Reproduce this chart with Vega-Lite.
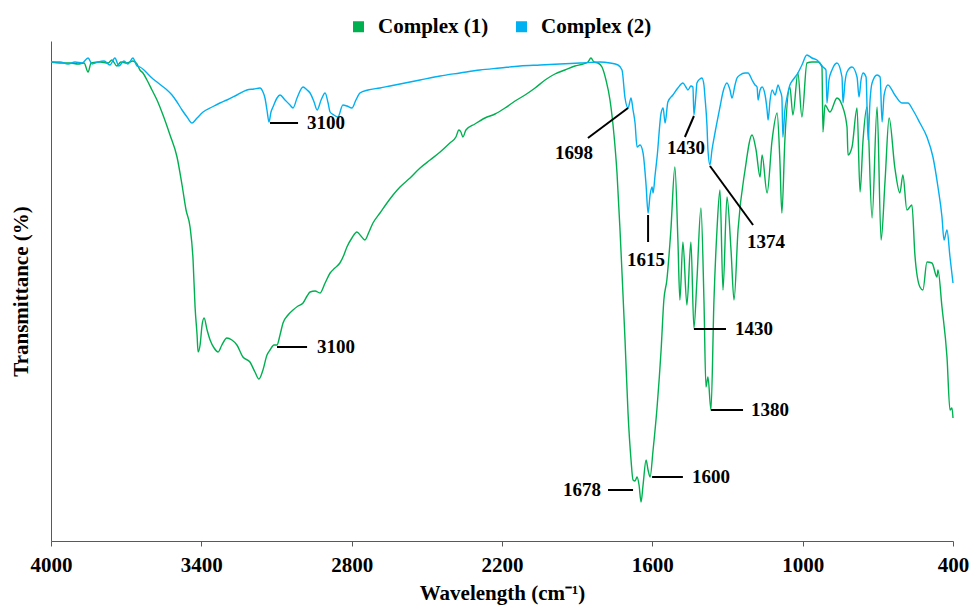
{
  "$schema": "https://vega.github.io/schema/vega-lite/v6.json",
  "width": 902,
  "height": 500,
  "autosize": {"type": "none"},
  "padding": {"left": 51, "top": 41, "right": 19, "bottom": 64},
  "background": "white",
  "config": {"view": {"stroke": null}, "font": "Liberation Serif"},
  "datasets": {
    "spectra": [
      {"c":"Complex (1)","w":4000,"t":95.8},{"c":"Complex (1)","w":3964,"t":95.6},{"c":"Complex (1)","w":3924,"t":95.6},{"c":"Complex (1)","w":3892,"t":95.4},{"c":"Complex (1)","w":3868,"t":95.6},{"c":"Complex (1)","w":3852,"t":93.8},{"c":"Complex (1)","w":3840,"t":95.6},{"c":"Complex (1)","w":3804,"t":95.8},{"c":"Complex (1)","w":3772,"t":95.6},{"c":"Complex (1)","w":3757,"t":96.2},{"c":"Complex (1)","w":3737,"t":95.0},{"c":"Complex (1)","w":3721,"t":95.8},{"c":"Complex (1)","w":3697,"t":95.6},{"c":"Complex (1)","w":3673,"t":96.0},{"c":"Complex (1)","w":3657,"t":95.4},{"c":"Complex (1)","w":3645,"t":94.2},{"c":"Complex (1)","w":3633,"t":93.6},{"c":"Complex (1)","w":3617,"t":92.2},{"c":"Complex (1)","w":3597,"t":90.2},{"c":"Complex (1)","w":3577,"t":88.2},{"c":"Complex (1)","w":3553,"t":85.2},{"c":"Complex (1)","w":3525,"t":81.2},{"c":"Complex (1)","w":3497,"t":76.8},{"c":"Complex (1)","w":3477,"t":71.2},{"c":"Complex (1)","w":3461,"t":66.2},{"c":"Complex (1)","w":3445,"t":62.8},{"c":"Complex (1)","w":3433,"t":56.2},{"c":"Complex (1)","w":3425,"t":46.8},{"c":"Complex (1)","w":3417,"t":41.2},{"c":"Complex (1)","w":3413,"t":37.8},{"c":"Complex (1)","w":3405,"t":39.2},{"c":"Complex (1)","w":3397,"t":43.2},{"c":"Complex (1)","w":3389,"t":44.6},{"c":"Complex (1)","w":3377,"t":42.2},{"c":"Complex (1)","w":3365,"t":40.2},{"c":"Complex (1)","w":3349,"t":38.6},{"c":"Complex (1)","w":3333,"t":37.8},{"c":"Complex (1)","w":3318,"t":39.2},{"c":"Complex (1)","w":3298,"t":40.6},{"c":"Complex (1)","w":3278,"t":40.2},{"c":"Complex (1)","w":3258,"t":39.2},{"c":"Complex (1)","w":3234,"t":36.8},{"c":"Complex (1)","w":3206,"t":35.8},{"c":"Complex (1)","w":3186,"t":33.8},{"c":"Complex (1)","w":3170,"t":32.4},{"c":"Complex (1)","w":3154,"t":34.2},{"c":"Complex (1)","w":3138,"t":37.2},{"c":"Complex (1)","w":3126,"t":38.2},{"c":"Complex (1)","w":3110,"t":39.2},{"c":"Complex (1)","w":3098,"t":39.2},{"c":"Complex (1)","w":3086,"t":41.2},{"c":"Complex (1)","w":3074,"t":43.6},{"c":"Complex (1)","w":3054,"t":45.2},{"c":"Complex (1)","w":3034,"t":46.2},{"c":"Complex (1)","w":3014,"t":47.0},{"c":"Complex (1)","w":2994,"t":47.6},{"c":"Complex (1)","w":2978,"t":49.0},{"c":"Complex (1)","w":2966,"t":49.8},{"c":"Complex (1)","w":2946,"t":50.0},{"c":"Complex (1)","w":2926,"t":49.6},{"c":"Complex (1)","w":2906,"t":51.6},{"c":"Complex (1)","w":2886,"t":53.6},{"c":"Complex (1)","w":2867,"t":54.6},{"c":"Complex (1)","w":2847,"t":55.6},{"c":"Complex (1)","w":2831,"t":57.2},{"c":"Complex (1)","w":2819,"t":58.8},{"c":"Complex (1)","w":2799,"t":60.6},{"c":"Complex (1)","w":2779,"t":61.8},{"c":"Complex (1)","w":2763,"t":61.0},{"c":"Complex (1)","w":2747,"t":60.2},{"c":"Complex (1)","w":2731,"t":61.8},{"c":"Complex (1)","w":2715,"t":63.6},{"c":"Complex (1)","w":2687,"t":65.6},{"c":"Complex (1)","w":2659,"t":67.6},{"c":"Complex (1)","w":2635,"t":69.2},{"c":"Complex (1)","w":2607,"t":70.8},{"c":"Complex (1)","w":2567,"t":72.6},{"c":"Complex (1)","w":2527,"t":74.6},{"c":"Complex (1)","w":2487,"t":76.2},{"c":"Complex (1)","w":2447,"t":77.8},{"c":"Complex (1)","w":2408,"t":79.6},{"c":"Complex (1)","w":2384,"t":80.8},{"c":"Complex (1)","w":2372,"t":82.2},{"c":"Complex (1)","w":2364,"t":81.8},{"c":"Complex (1)","w":2356,"t":80.8},{"c":"Complex (1)","w":2344,"t":82.2},{"c":"Complex (1)","w":2308,"t":83.4},{"c":"Complex (1)","w":2268,"t":84.6},{"c":"Complex (1)","w":2228,"t":85.4},{"c":"Complex (1)","w":2188,"t":86.6},{"c":"Complex (1)","w":2148,"t":88.0},{"c":"Complex (1)","w":2108,"t":89.2},{"c":"Complex (1)","w":2068,"t":90.6},{"c":"Complex (1)","w":2028,"t":92.2},{"c":"Complex (1)","w":1989,"t":93.4},{"c":"Complex (1)","w":1949,"t":94.2},{"c":"Complex (1)","w":1909,"t":95.0},{"c":"Complex (1)","w":1877,"t":95.4},{"c":"Complex (1)","w":1857,"t":95.8},{"c":"Complex (1)","w":1845,"t":96.6},{"c":"Complex (1)","w":1833,"t":95.8},{"c":"Complex (1)","w":1817,"t":95.6},{"c":"Complex (1)","w":1801,"t":94.8},{"c":"Complex (1)","w":1785,"t":92.2},{"c":"Complex (1)","w":1769,"t":88.2},{"c":"Complex (1)","w":1753,"t":81.2},{"c":"Complex (1)","w":1741,"t":73.6},{"c":"Complex (1)","w":1729,"t":62.2},{"c":"Complex (1)","w":1721,"t":53.6},{"c":"Complex (1)","w":1709,"t":40.2},{"c":"Complex (1)","w":1697,"t":25.6},{"c":"Complex (1)","w":1685,"t":16.2},{"c":"Complex (1)","w":1677,"t":12.2},{"c":"Complex (1)","w":1669,"t":12.0},{"c":"Complex (1)","w":1661,"t":12.8},{"c":"Complex (1)","w":1653,"t":11.2},{"c":"Complex (1)","w":1645,"t":7.8},{"c":"Complex (1)","w":1637,"t":11.2},{"c":"Complex (1)","w":1625,"t":16.2},{"c":"Complex (1)","w":1617,"t":14.2},{"c":"Complex (1)","w":1609,"t":12.8},{"c":"Complex (1)","w":1597,"t":18.2},{"c":"Complex (1)","w":1581,"t":26.8},{"c":"Complex (1)","w":1565,"t":38.2},{"c":"Complex (1)","w":1554,"t":48.2},{"c":"Complex (1)","w":1542,"t":52.2},{"c":"Complex (1)","w":1526,"t":62.2},{"c":"Complex (1)","w":1510,"t":74.8},{"c":"Complex (1)","w":1498,"t":60.2},{"c":"Complex (1)","w":1490,"t":48.2},{"c":"Complex (1)","w":1478,"t":59.8},{"c":"Complex (1)","w":1462,"t":47.2},{"c":"Complex (1)","w":1446,"t":59.8},{"c":"Complex (1)","w":1434,"t":42.6},{"c":"Complex (1)","w":1422,"t":52.2},{"c":"Complex (1)","w":1406,"t":66.6},{"c":"Complex (1)","w":1394,"t":48.2},{"c":"Complex (1)","w":1386,"t":30.8},{"c":"Complex (1)","w":1378,"t":32.8},{"c":"Complex (1)","w":1366,"t":26.2},{"c":"Complex (1)","w":1354,"t":48.2},{"c":"Complex (1)","w":1342,"t":62.2},{"c":"Complex (1)","w":1330,"t":70.2},{"c":"Complex (1)","w":1318,"t":50.2},{"c":"Complex (1)","w":1302,"t":68.8},{"c":"Complex (1)","w":1286,"t":58.2},{"c":"Complex (1)","w":1274,"t":48.2},{"c":"Complex (1)","w":1258,"t":62.2},{"c":"Complex (1)","w":1230,"t":74.2},{"c":"Complex (1)","w":1202,"t":81.2},{"c":"Complex (1)","w":1186,"t":78.2},{"c":"Complex (1)","w":1170,"t":72.8},{"c":"Complex (1)","w":1162,"t":77.2},{"c":"Complex (1)","w":1142,"t":69.6},{"c":"Complex (1)","w":1122,"t":80.2},{"c":"Complex (1)","w":1102,"t":85.6},{"c":"Complex (1)","w":1091,"t":76.2},{"c":"Complex (1)","w":1083,"t":65.6},{"c":"Complex (1)","w":1071,"t":80.2},{"c":"Complex (1)","w":1051,"t":90.8},{"c":"Complex (1)","w":1039,"t":85.2},{"c":"Complex (1)","w":1019,"t":93.6},{"c":"Complex (1)","w":1003,"t":84.8},{"c":"Complex (1)","w":983,"t":95.6},{"c":"Complex (1)","w":963,"t":95.8},{"c":"Complex (1)","w":939,"t":95.8},{"c":"Complex (1)","w":923,"t":94.8},{"c":"Complex (1)","w":919,"t":81.8},{"c":"Complex (1)","w":911,"t":87.2},{"c":"Complex (1)","w":891,"t":85.8},{"c":"Complex (1)","w":863,"t":88.6},{"c":"Complex (1)","w":843,"t":87.2},{"c":"Complex (1)","w":823,"t":82.8},{"c":"Complex (1)","w":819,"t":77.2},{"c":"Complex (1)","w":803,"t":78.8},{"c":"Complex (1)","w":783,"t":86.6},{"c":"Complex (1)","w":771,"t":69.8},{"c":"Complex (1)","w":759,"t":80.2},{"c":"Complex (1)","w":743,"t":86.8},{"c":"Complex (1)","w":723,"t":64.6},{"c":"Complex (1)","w":703,"t":86.8},{"c":"Complex (1)","w":687,"t":60.2},{"c":"Complex (1)","w":671,"t":72.2},{"c":"Complex (1)","w":655,"t":84.6},{"c":"Complex (1)","w":632,"t":74.6},{"c":"Complex (1)","w":612,"t":69.6},{"c":"Complex (1)","w":600,"t":73.2},{"c":"Complex (1)","w":584,"t":66.2},{"c":"Complex (1)","w":564,"t":67.2},{"c":"Complex (1)","w":552,"t":57.2},{"c":"Complex (1)","w":532,"t":50.8},{"c":"Complex (1)","w":520,"t":50.2},{"c":"Complex (1)","w":504,"t":55.8},{"c":"Complex (1)","w":484,"t":55.6},{"c":"Complex (1)","w":464,"t":52.8},{"c":"Complex (1)","w":460,"t":54.2},{"c":"Complex (1)","w":444,"t":46.8},{"c":"Complex (1)","w":424,"t":36.8},{"c":"Complex (1)","w":412,"t":26.2},{"c":"Complex (1)","w":404,"t":26.6},{"c":"Complex (1)","w":400,"t":24.6},
      {"c":"Complex (2)","w":4000,"t":95.8},{"c":"Complex (2)","w":3964,"t":95.8},{"c":"Complex (2)","w":3932,"t":95.4},{"c":"Complex (2)","w":3904,"t":95.8},{"c":"Complex (2)","w":3876,"t":95.6},{"c":"Complex (2)","w":3852,"t":96.6},{"c":"Complex (2)","w":3836,"t":95.4},{"c":"Complex (2)","w":3812,"t":95.8},{"c":"Complex (2)","w":3788,"t":96.0},{"c":"Complex (2)","w":3765,"t":95.2},{"c":"Complex (2)","w":3745,"t":96.6},{"c":"Complex (2)","w":3729,"t":95.0},{"c":"Complex (2)","w":3709,"t":96.0},{"c":"Complex (2)","w":3693,"t":95.4},{"c":"Complex (2)","w":3673,"t":96.6},{"c":"Complex (2)","w":3657,"t":95.0},{"c":"Complex (2)","w":3645,"t":94.8},{"c":"Complex (2)","w":3629,"t":94.2},{"c":"Complex (2)","w":3617,"t":93.6},{"c":"Complex (2)","w":3597,"t":92.6},{"c":"Complex (2)","w":3577,"t":91.8},{"c":"Complex (2)","w":3557,"t":91.0},{"c":"Complex (2)","w":3537,"t":90.2},{"c":"Complex (2)","w":3517,"t":89.2},{"c":"Complex (2)","w":3497,"t":87.8},{"c":"Complex (2)","w":3477,"t":86.2},{"c":"Complex (2)","w":3457,"t":84.8},{"c":"Complex (2)","w":3437,"t":83.6},{"c":"Complex (2)","w":3417,"t":84.6},{"c":"Complex (2)","w":3393,"t":85.8},{"c":"Complex (2)","w":3357,"t":86.8},{"c":"Complex (2)","w":3326,"t":87.6},{"c":"Complex (2)","w":3298,"t":88.2},{"c":"Complex (2)","w":3258,"t":89.2},{"c":"Complex (2)","w":3218,"t":90.2},{"c":"Complex (2)","w":3190,"t":90.4},{"c":"Complex (2)","w":3166,"t":90.6},{"c":"Complex (2)","w":3154,"t":89.8},{"c":"Complex (2)","w":3146,"t":88.6},{"c":"Complex (2)","w":3138,"t":86.2},{"c":"Complex (2)","w":3130,"t":83.8},{"c":"Complex (2)","w":3122,"t":85.8},{"c":"Complex (2)","w":3114,"t":86.8},{"c":"Complex (2)","w":3098,"t":88.6},{"c":"Complex (2)","w":3086,"t":89.2},{"c":"Complex (2)","w":3066,"t":88.2},{"c":"Complex (2)","w":3046,"t":87.2},{"c":"Complex (2)","w":3034,"t":86.6},{"c":"Complex (2)","w":3018,"t":88.6},{"c":"Complex (2)","w":2994,"t":90.8},{"c":"Complex (2)","w":2978,"t":90.2},{"c":"Complex (2)","w":2966,"t":89.6},{"c":"Complex (2)","w":2950,"t":87.8},{"c":"Complex (2)","w":2938,"t":86.2},{"c":"Complex (2)","w":2922,"t":88.2},{"c":"Complex (2)","w":2906,"t":89.6},{"c":"Complex (2)","w":2894,"t":87.6},{"c":"Complex (2)","w":2886,"t":85.8},{"c":"Complex (2)","w":2871,"t":85.2},{"c":"Complex (2)","w":2855,"t":84.8},{"c":"Complex (2)","w":2835,"t":87.2},{"c":"Complex (2)","w":2819,"t":87.0},{"c":"Complex (2)","w":2799,"t":86.6},{"c":"Complex (2)","w":2783,"t":88.2},{"c":"Complex (2)","w":2767,"t":89.6},{"c":"Complex (2)","w":2735,"t":90.2},{"c":"Complex (2)","w":2687,"t":90.6},{"c":"Complex (2)","w":2647,"t":91.0},{"c":"Complex (2)","w":2607,"t":91.4},{"c":"Complex (2)","w":2527,"t":92.2},{"c":"Complex (2)","w":2447,"t":93.0},{"c":"Complex (2)","w":2368,"t":93.6},{"c":"Complex (2)","w":2288,"t":94.2},{"c":"Complex (2)","w":2208,"t":94.6},{"c":"Complex (2)","w":2128,"t":95.0},{"c":"Complex (2)","w":2048,"t":95.2},{"c":"Complex (2)","w":1969,"t":95.4},{"c":"Complex (2)","w":1889,"t":95.6},{"c":"Complex (2)","w":1809,"t":95.8},{"c":"Complex (2)","w":1769,"t":95.6},{"c":"Complex (2)","w":1737,"t":95.2},{"c":"Complex (2)","w":1721,"t":94.2},{"c":"Complex (2)","w":1709,"t":88.6},{"c":"Complex (2)","w":1697,"t":86.6},{"c":"Complex (2)","w":1685,"t":88.6},{"c":"Complex (2)","w":1677,"t":86.2},{"c":"Complex (2)","w":1669,"t":83.6},{"c":"Complex (2)","w":1661,"t":78.8},{"c":"Complex (2)","w":1649,"t":79.2},{"c":"Complex (2)","w":1637,"t":77.6},{"c":"Complex (2)","w":1625,"t":71.2},{"c":"Complex (2)","w":1617,"t":65.6},{"c":"Complex (2)","w":1609,"t":69.2},{"c":"Complex (2)","w":1601,"t":70.8},{"c":"Complex (2)","w":1597,"t":69.6},{"c":"Complex (2)","w":1589,"t":73.2},{"c":"Complex (2)","w":1581,"t":76.8},{"c":"Complex (2)","w":1565,"t":85.6},{"c":"Complex (2)","w":1557,"t":86.6},{"c":"Complex (2)","w":1549,"t":83.6},{"c":"Complex (2)","w":1538,"t":87.8},{"c":"Complex (2)","w":1518,"t":89.2},{"c":"Complex (2)","w":1498,"t":90.6},{"c":"Complex (2)","w":1478,"t":91.6},{"c":"Complex (2)","w":1466,"t":90.8},{"c":"Complex (2)","w":1458,"t":90.2},{"c":"Complex (2)","w":1446,"t":91.0},{"c":"Complex (2)","w":1438,"t":90.8},{"c":"Complex (2)","w":1434,"t":85.2},{"c":"Complex (2)","w":1426,"t":89.2},{"c":"Complex (2)","w":1422,"t":91.6},{"c":"Complex (2)","w":1410,"t":92.4},{"c":"Complex (2)","w":1402,"t":92.6},{"c":"Complex (2)","w":1394,"t":91.2},{"c":"Complex (2)","w":1390,"t":88.8},{"c":"Complex (2)","w":1382,"t":83.2},{"c":"Complex (2)","w":1378,"t":78.2},{"c":"Complex (2)","w":1370,"t":75.2},{"c":"Complex (2)","w":1362,"t":78.2},{"c":"Complex (2)","w":1350,"t":81.6},{"c":"Complex (2)","w":1330,"t":86.8},{"c":"Complex (2)","w":1318,"t":89.8},{"c":"Complex (2)","w":1302,"t":91.6},{"c":"Complex (2)","w":1290,"t":90.2},{"c":"Complex (2)","w":1282,"t":88.6},{"c":"Complex (2)","w":1270,"t":91.2},{"c":"Complex (2)","w":1262,"t":92.6},{"c":"Complex (2)","w":1250,"t":93.2},{"c":"Complex (2)","w":1230,"t":93.6},{"c":"Complex (2)","w":1218,"t":93.6},{"c":"Complex (2)","w":1202,"t":92.2},{"c":"Complex (2)","w":1190,"t":91.2},{"c":"Complex (2)","w":1182,"t":90.8},{"c":"Complex (2)","w":1178,"t":88.2},{"c":"Complex (2)","w":1170,"t":90.2},{"c":"Complex (2)","w":1162,"t":90.8},{"c":"Complex (2)","w":1150,"t":89.2},{"c":"Complex (2)","w":1142,"t":86.2},{"c":"Complex (2)","w":1138,"t":84.2},{"c":"Complex (2)","w":1130,"t":88.2},{"c":"Complex (2)","w":1122,"t":90.2},{"c":"Complex (2)","w":1110,"t":89.2},{"c":"Complex (2)","w":1098,"t":91.2},{"c":"Complex (2)","w":1091,"t":90.2},{"c":"Complex (2)","w":1083,"t":88.8},{"c":"Complex (2)","w":1079,"t":80.8},{"c":"Complex (2)","w":1071,"t":86.2},{"c":"Complex (2)","w":1063,"t":88.6},{"c":"Complex (2)","w":1051,"t":91.2},{"c":"Complex (2)","w":1039,"t":92.2},{"c":"Complex (2)","w":1019,"t":93.6},{"c":"Complex (2)","w":1003,"t":95.2},{"c":"Complex (2)","w":983,"t":97.2},{"c":"Complex (2)","w":963,"t":96.6},{"c":"Complex (2)","w":943,"t":96.2},{"c":"Complex (2)","w":919,"t":94.8},{"c":"Complex (2)","w":907,"t":94.2},{"c":"Complex (2)","w":903,"t":87.6},{"c":"Complex (2)","w":895,"t":92.2},{"c":"Complex (2)","w":883,"t":94.2},{"c":"Complex (2)","w":863,"t":95.6},{"c":"Complex (2)","w":843,"t":92.8},{"c":"Complex (2)","w":839,"t":87.6},{"c":"Complex (2)","w":831,"t":91.8},{"c":"Complex (2)","w":823,"t":93.8},{"c":"Complex (2)","w":803,"t":94.8},{"c":"Complex (2)","w":783,"t":92.8},{"c":"Complex (2)","w":775,"t":88.8},{"c":"Complex (2)","w":767,"t":92.2},{"c":"Complex (2)","w":759,"t":93.6},{"c":"Complex (2)","w":747,"t":92.8},{"c":"Complex (2)","w":739,"t":80.2},{"c":"Complex (2)","w":731,"t":88.2},{"c":"Complex (2)","w":723,"t":91.6},{"c":"Complex (2)","w":703,"t":93.2},{"c":"Complex (2)","w":691,"t":92.8},{"c":"Complex (2)","w":683,"t":83.8},{"c":"Complex (2)","w":675,"t":89.2},{"c":"Complex (2)","w":660,"t":91.2},{"c":"Complex (2)","w":632,"t":89.2},{"c":"Complex (2)","w":604,"t":87.6},{"c":"Complex (2)","w":580,"t":87.6},{"c":"Complex (2)","w":560,"t":86.2},{"c":"Complex (2)","w":532,"t":83.6},{"c":"Complex (2)","w":504,"t":80.8},{"c":"Complex (2)","w":480,"t":76.8},{"c":"Complex (2)","w":460,"t":70.8},{"c":"Complex (2)","w":444,"t":64.8},{"c":"Complex (2)","w":436,"t":60.2},{"c":"Complex (2)","w":424,"t":62.2},{"c":"Complex (2)","w":412,"t":56.8},{"c":"Complex (2)","w":400,"t":51.6}
    ],
    "leaders": [
      {"w1":3098,"t1":38.8,"w2":2978,"t2":38.8},
      {"w1":3126,"t1":83.6,"w2":3014,"t2":83.6},
      {"w1":1697,"t1":86.6,"w2":1857,"t2":80.6},
      {"w1":1617,"t1":65.2,"w2":1617,"t2":59.8},
      {"w1":1434,"t1":85.0,"w2":1470,"t2":80.8},
      {"w1":1370,"t1":75.0,"w2":1198,"t2":63.2},
      {"w1":1777,"t1":10.2,"w2":1677,"t2":10.2},
      {"w1":1601,"t1":12.8,"w2":1478,"t2":12.8},
      {"w1":1434,"t1":42.4,"w2":1306,"t2":42.4},
      {"w1":1366,"t1":26.2,"w2":1238,"t2":26.2}
    ],
    "labelsLeft": [
      {"label":"3100","w":2938,"t":38.8},
      {"label":"3100","w":2978,"t":83.6},
      {"label":"1600","w":1442,"t":12.8},
      {"label":"1430","w":1270,"t":42.4},
      {"label":"1380","w":1206,"t":26.2}
    ],
    "labelsCenter": [
      {"label":"1698","w":1913,"t":77.6},
      {"label":"1615","w":1625,"t":56.2},
      {"label":"1430","w":1466,"t":78.6},
      {"label":"1374","w":1146,"t":59.8}
    ],
    "labelsRight": [
      {"label":"1678","w":1805,"t":10.2}
    ]
  },
  "layer": [
    {
      "data": {"name": "spectra"},
      "mark": {"type": "line", "strokeWidth": 1.4, "interpolate": "monotone"},
      "encoding": {
        "x": {
          "field": "w", "type": "quantitative", "title": "Wavelength (cm⁻¹)",
          "scale": {"domain": [400, 4000], "reverse": true, "nice": false, "zero": false},
          "axis": {
            "values": [4000, 3400, 2800, 2200, 1600, 1000, 400], "format": "d",
            "grid": false, "domainColor": "#595959", "tickColor": "#595959", "tickSize": 5,
            "labelFont": "Liberation Serif", "labelFontSize": 21, "labelFontWeight": "bold", "labelColor": "black",
            "labelPadding": 8, "labelFlush": false, "labelOverlap": false,
            "titleFont": "Liberation Serif", "titleFontSize": 21, "titleFontWeight": "bold", "titleColor": "black", "titlePadding": 7
          }
        },
        "y": {
          "field": "t", "type": "quantitative", "title": "Transmittance (%)",
          "scale": {"domain": [0, 100], "nice": false},
          "axis": {
            "grid": false, "ticks": false, "labels": false, "domainColor": "#595959",
            "titleFont": "Liberation Serif", "titleFontSize": 21, "titleFontWeight": "bold", "titleColor": "black", "titlePadding": 20
          }
        },
        "color": {
          "field": "c", "type": "nominal",
          "scale": {"domain": ["Complex (1)", "Complex (2)"], "range": ["#00B050", "#00B0F0"]},
          "legend": {
            "title": null, "orient": "none", "legendX": 297, "legendY": -25, "direction": "horizontal",
            "symbolType": "square", "symbolSize": 121, "symbolStrokeWidth": 0,
            "labelFont": "Liberation Serif", "labelFontSize": 21, "labelFontWeight": "bold", "labelColor": "black",
            "labelOffset": 9, "columnPadding": 22,
            "encode": {"symbols": {"update": {"fill": {"scale": "color", "field": "value"}, "strokeWidth": {"value": 0}}}}
          }
        }
      }
    },
    {
      "data": {"name": "leaders"},
      "mark": {"type": "rule", "color": "black", "strokeWidth": 2},
      "encoding": {
        "x": {"field": "w1", "type": "quantitative", "title": "Wavelength (cm⁻¹)"},
        "x2": {"field": "w2"},
        "y": {"field": "t1", "type": "quantitative", "title": "Transmittance (%)"},
        "y2": {"field": "t2"}
      }
    },
    {
      "data": {"name": "labelsLeft"},
      "mark": {"type": "text", "align": "left", "baseline": "middle", "font": "Liberation Serif", "fontSize": 19, "fontWeight": "bold", "color": "black"},
      "encoding": {
        "x": {"field": "w", "type": "quantitative", "title": "Wavelength (cm⁻¹)"},
        "y": {"field": "t", "type": "quantitative", "title": "Transmittance (%)"},
        "text": {"field": "label"}
      }
    },
    {
      "data": {"name": "labelsCenter"},
      "mark": {"type": "text", "align": "center", "baseline": "middle", "font": "Liberation Serif", "fontSize": 19, "fontWeight": "bold", "color": "black"},
      "encoding": {
        "x": {"field": "w", "type": "quantitative", "title": "Wavelength (cm⁻¹)"},
        "y": {"field": "t", "type": "quantitative", "title": "Transmittance (%)"},
        "text": {"field": "label"}
      }
    },
    {
      "data": {"name": "labelsRight"},
      "mark": {"type": "text", "align": "right", "baseline": "middle", "font": "Liberation Serif", "fontSize": 19, "fontWeight": "bold", "color": "black"},
      "encoding": {
        "x": {"field": "w", "type": "quantitative", "title": "Wavelength (cm⁻¹)"},
        "y": {"field": "t", "type": "quantitative", "title": "Transmittance (%)"},
        "text": {"field": "label"}
      }
    }
  ]
}
